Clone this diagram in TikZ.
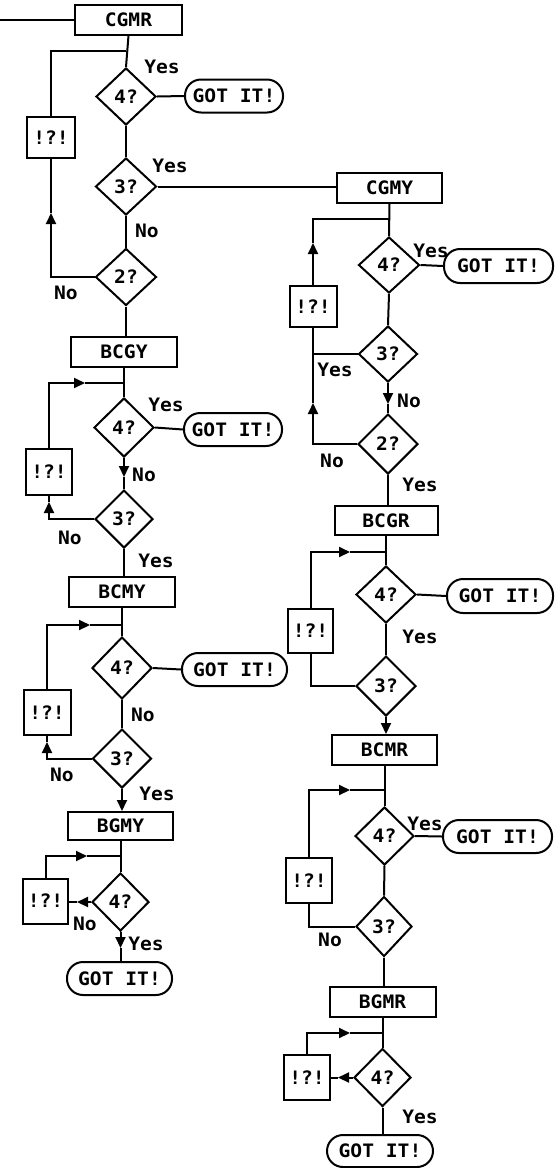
\documentclass[tikz,border=0pt]{standalone}
\usepackage{fontspec}
\newfontfamily\flowfont[FakeStretch=1.06]{DejaVu Sans Mono}
\usetikzlibrary{shapes.geometric,arrows.meta}
\begin{document}
\begin{tikzpicture}[x=1pt,y=-1pt,line width=2pt,
  every node/.style={font=\flowfont\bfseries\fontsize{18.5}{19}\selectfont},
  box/.style={draw,rectangle,inner sep=0,minimum height=30},
  dia/.style={draw,diamond,inner sep=0},
  got/.style={draw,rectangle,rounded corners=16,inner sep=0,minimum height=33},
  bad/.style={draw,rectangle,inner sep=0},
  lbl/.style={inner sep=0},
  tip/.style={-{Triangle[length=11pt,width=10pt]}}]
\fill[white] (0,0) rectangle (556,1168);
\useasboundingbox (0,0) rectangle (556,1168);

% ---------------- left column: CGMR ----------------
\coordinate (in) at (0,19.5);
\node[box,minimum width=107] (cgmr) at (128.5,19.5) {CGMR};
\node[dia,minimum width=60,minimum height=57] (a4) at (126,96.5) {4?};
\node[got,minimum width=98] (agot) at (234,96) {GOT IT!};
\node[dia,minimum width=61,minimum height=57] (a3) at (126,186.5) {3?};
\node[dia,minimum width=61,minimum height=57] (a2) at (126,277) {2?};
\node[bad,minimum width=48,minimum height=41] (abad) at (51,137.5) {!?!};
\coordinate (aj) at (126,50.7);
\coordinate (aup) at (51,213);
\node[lbl] (ya1) at (162,67) {Yes};
\node[lbl] (ya2) at (170,166) {Yes};
\node[lbl] (na1) at (147,231) {No};
\node[lbl] (na2) at (66,293) {No};
\draw (in) -- (cgmr.west);
\draw (cgmr.south) -- (a4.north);
\draw (a4.east) -- (agot.west);
\draw (a4.south) -- (a3.north);
\draw (a3.south) -- (a2.north);
\draw[tip] (a2.west) -| (aup);
\draw (aup) -- (abad.south);
\draw (abad.north) |- (aj);

% ---------------- left column: BCGY ----------------
\node[box,minimum width=106] (bcgy) at (124,352) {BCGY};
\node[dia,minimum width=60,minimum height=59] (b4) at (124,427.5) {4?};
\node[got,minimum width=98] (bgot) at (233,429.5) {GOT IT!};
\node[dia,minimum width=58,minimum height=58] (b3) at (124,519) {3?};
\node[bad,minimum width=46,minimum height=46] (bbad) at (49,472) {!?!};
\coordinate (bj) at (124,383);
\coordinate (bar) at (85,383);
\coordinate (bdn) at (124,477);
\coordinate (bup) at (49,502);
\node[lbl] (yb1) at (166,405) {Yes};
\node[lbl] (nb1) at (144,475) {No};
\node[lbl] (nb2) at (70,538) {No};
\node[lbl] (yb2) at (156,561) {Yes};
\draw (a2.south) -- (a2.south |- bcgy.north);
\draw (bcgy.south) -- (b4.north);
\draw (b4.east) -- (bgot.west);
\draw[tip] (b4.south) -- (bdn);
\draw (bdn) -- (b3.north);
\draw[tip] (b3.west) -| (bup);
\draw (bup) -- (bbad.south);
\draw[tip] (bbad.north) |- (bar);
\draw (bar) -- (bj);

% ---------------- left column: BCMY ----------------
\node[box,minimum width=106] (bcmy) at (122,592) {BCMY};
\node[dia,minimum width=60,minimum height=62] (c4) at (122,668) {4?};
\node[got,minimum width=105] (cgot) at (234.5,669.5) {GOT IT!};
\node[dia,minimum width=59,minimum height=59] (c3) at (122,758.5) {3?};
\node[bad,minimum width=47,minimum height=45] (cbad) at (47,712.5) {!?!};
\coordinate (cj) at (122,625);
\coordinate (car) at (90,625);
\coordinate (cup) at (47,742);
\node[lbl] (nc1) at (143,715) {No};
\node[lbl] (nc2) at (62,775) {No};
\node[lbl] (yc1) at (157,794) {Yes};
\draw (b3.south) -- (b3.south |- bcmy.north);
\draw (bcmy.south) -- (c4.north);
\draw (c4.east) -- (cgot.west);
\draw (c4.south) -- (c3.north);
\draw[tip] (c3.west) -| (cup);
\draw (cup) -- (cbad.south);
\draw[tip] (cbad.north) |- (car);
\draw (car) -- (cj);

% ---------------- left column: BGMY ----------------
\node[box,minimum width=105,minimum height=28] (bgmy) at (120.5,826) {BGMY};
\node[dia,minimum width=57,minimum height=58] (d4) at (120.5,902) {4?};
\node[bad,minimum width=45,minimum height=45] (dbad) at (45.5,901) {!?!};
\node[got,minimum width=105] (dgot) at (119.5,978.5) {GOT IT!};
\coordinate (dj) at (120.5,856);
\coordinate (dar) at (87,856);
\coordinate (dlt) at (77,902);
\coordinate (ddn) at (120.5,948);
\node[lbl] (nd1) at (85,924) {No};
\node[lbl] (yd1) at (146,944) {Yes};
\draw[tip] (c3.south) -- (c3.south |- bgmy.north);
\draw (bgmy.south) -- (d4.north);
\draw[tip] (dbad.north) |- (dar);
\draw (dar) -- (dj);
\draw[tip] (d4.west) -- (dlt);
\draw (dlt) -- (dlt -| dbad.east);
\draw[tip] (d4.south) -- (ddn);
\draw (ddn) -- (ddn |- dgot.north);

% ---------------- right column: CGMY ----------------
\node[box,minimum width=105] (cgmy) at (389.5,188) {CGMY};
\node[dia,minimum width=61,minimum height=56] (e4) at (389,265) {4?};
\node[got,minimum width=109,minimum height=34] (egot) at (498.5,266) {GOT IT!};
\node[dia,minimum width=59,minimum height=56] (e3) at (388,354) {3?};
\node[dia,minimum width=60,minimum height=60] (e2) at (388,444) {2?};
\node[bad,minimum width=47,minimum height=41] (ebad) at (313,306.5) {!?!};
\coordinate (ej) at (389,219);
\coordinate (eup1) at (313,243);
\coordinate (eup2) at (313,403);
\coordinate (ejn) at (313,354);
\coordinate (edn) at (388,404);
\node[lbl] (ye1) at (431,251) {Yes};
\node[lbl] (ye2) at (335,370) {Yes};
\node[lbl] (ne1) at (409,401) {No};
\node[lbl] (ne2) at (332,461) {No};
\node[lbl] (ye3) at (420,485) {Yes};
\draw (a3.east) -- (a3.east -| cgmy.west);
\draw (cgmy.south) -- (e4.north);
\draw (e4.east) -- (egot.west);
\draw (e4.south) -- (e3.north);
\draw[tip] (e3.south) -- (edn);
\draw (edn) -- (e2.north);
\draw[tip] (e2.west) -| (eup2);
\draw (eup2) -- (ebad.south);
\draw (e3.west) -- (ejn);
\draw[tip] (ebad.north) -- (eup1);
\draw (eup1) |- (ej);

% ---------------- right column: BCGR ----------------
\node[box,minimum width=103,minimum height=29] (bcgr) at (386,520.5) {BCGR};
\node[dia,minimum width=60,minimum height=57] (f4) at (386,594.5) {4?};
\node[got,minimum width=106,minimum height=34] (fgot) at (500,596) {GOT IT!};
\node[dia,minimum width=60,minimum height=60] (f3) at (386,686) {3?};
\node[bad,minimum width=45,minimum height=44] (fbad) at (310.5,631) {!?!};
\coordinate (fj) at (386,552);
\coordinate (far) at (350,552);
\node[lbl] (yf1) at (420,637) {Yes};
\draw (e2.south) -- (e2.south |- bcgr.north);
\draw (bcgr.south) -- (f4.north);
\draw (f4.east) -- (fgot.west);
\draw (f4.south) -- (f3.north);
\draw (f3.west) -| (fbad.south);
\draw[tip] (fbad.north) |- (far);
\draw (far) -- (fj);

% ---------------- right column: BCMR ----------------
\node[box,minimum width=105] (bcmr) at (384.5,750) {BCMR};
\node[dia,minimum width=59,minimum height=58] (g4) at (384.5,836) {4?};
\node[got,minimum width=109] (ggot) at (497.5,836.5) {GOT IT!};
\node[dia,minimum width=56,minimum height=60] (g3) at (384,926.5) {3?};
\node[bad,minimum width=46,minimum height=45] (gbad) at (309,880.5) {!?!};
\coordinate (gj) at (384.5,790);
\coordinate (gar) at (350,790);
\node[lbl] (yg1) at (425,824) {Yes};
\node[lbl] (ng1) at (330,940) {No};
\draw[tip] (f3.south) -- (f3.south |- bcmr.north);
\draw (bcmr.south) -- (g4.north);
\draw (g4.east) -- (ggot.west);
\draw (g4.south) -- (g3.north);
\draw (g3.west) -| (gbad.south);
\draw[tip] (gbad.north) |- (gar);
\draw (gar) -- (gj);

% ---------------- right column: BGMR ----------------
\node[box,minimum width=106] (bgmr) at (382.5,1002) {BGMR};
\node[dia,minimum width=57,minimum height=58] (h4) at (382.5,1077.5) {4?};
\node[bad,minimum width=46,minimum height=45] (hbad) at (307,1077.5) {!?!};
\node[got,minimum width=106,minimum height=32] (hgot) at (380,1151) {GOT IT!};
\coordinate (hj) at (382.5,1033);
\coordinate (har) at (350,1033);
\coordinate (hlt) at (338,1077.5);
\node[lbl] (yh1) at (420,1117) {Yes};
\draw (g3.south) -- (g3.south |- bgmr.north);
\draw (bgmr.south) -- (h4.north);
\draw[tip] (hbad.north) |- (har);
\draw (har) -- (hj);
\draw[tip] (h4.west) -- (hlt);
\draw (hlt) -- (hbad.east);
\draw (h4.south) -- (h4.south |- hgot.north);
\end{tikzpicture}
\end{document}
